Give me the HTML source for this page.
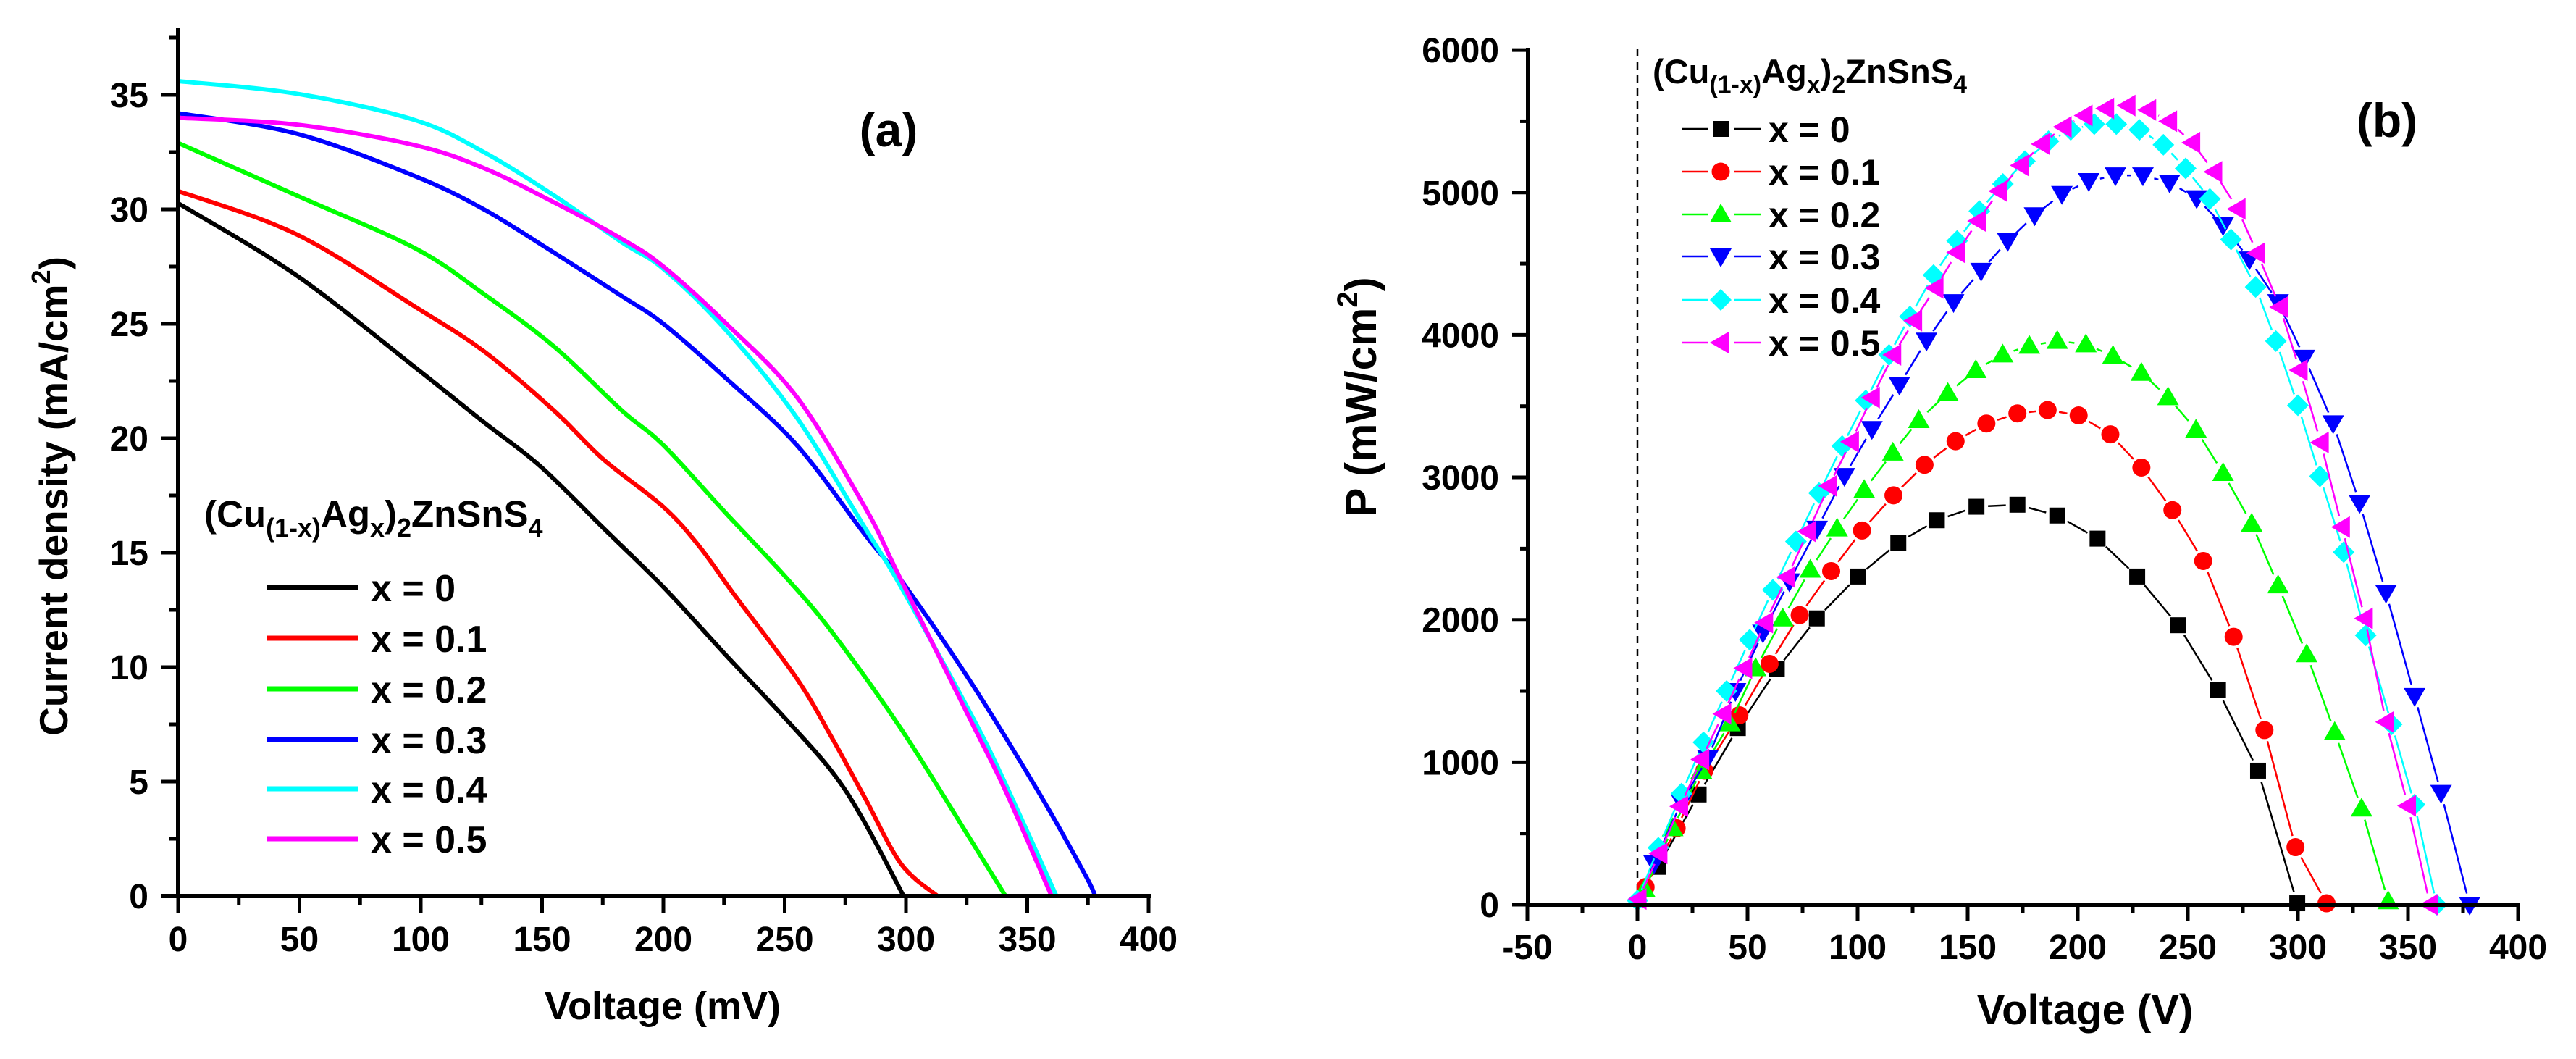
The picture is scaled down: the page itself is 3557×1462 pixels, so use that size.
<!DOCTYPE html>
<html><head><meta charset="utf-8"><style>
html,body{margin:0;padding:0;background:#fff;}
svg{display:block;font-family:"Liberation Sans",Arial,sans-serif;font-weight:bold;}
</style></head><body>
<svg id="fig" width="3557" height="1462" viewBox="0 0 3557 1462" xmlns="http://www.w3.org/2000/svg">
<g id="left"></g>
<g id="right"></g>
</svg>
<script>
// ---------- Chart (a) data: J-V curves ----------
const seriesNames = ["x = 0","x = 0.1","x = 0.2","x = 0.3","x = 0.4","x = 0.5"];
const seriesColors = ["#000000","#ff0000","#00ff00","#0000ff","#00ffff","#ff00ff"];
const jvV0 = [0,49,97.6,126,149,175,200,226,249,269,282,299];
const jvJ0 = [30.27,27.1,23.1,20.7,18.8,16.1,13.5,10.5,7.9,5.5,3.4,0];
const jvV1 = [0,49,97.6,126,155,175,200,215,229,255,269,283,298,313];
const jvJ1 = [30.8,28.9,25.75,23.8,21.2,19.1,17.0,15.25,13.2,9.5,7.0,4.3,1.4,0];
const jvV2 = [0,49,97.6,126,155,183,200,226,249,269,298,327,341];
const jvJ2 = [32.9,30.6,28.3,26.3,24.0,21.2,19.7,16.7,14.1,11.6,7.3,2.4,0];
const jvV3 = [0,49,97.6,126,155,183,200,226,255,283,298,327,356,374,378];
const jvJ3 = [34.2,33.3,31.45,30.0,28.1,26.2,25.0,22.6,19.7,15.8,13.8,9.3,4.3,0.9,0];
const jvV4 = [0,49,97.6,126,155,183,200,226,255,283,298,327,341,362];
const jvJ4 = [35.6,35.05,33.9,32.5,30.6,28.55,27.4,24.7,20.9,16.1,13.5,7.9,4.9,0];
const jvV5 = [0,49,97.6,126,155,183,200,226,255,283,298,327,341,360];
const jvJ5 = [34.0,33.7,32.8,31.8,30.3,28.7,27.5,25.0,21.8,17.0,13.8,7.6,4.6,0];
const jvXTicks = [0,50,100,150,200,250,300,350,400];
const jvYTicks = [0,5,10,15,20,25,30,35];

// ---------- Chart (b) data: P-V ----------
const pvV0 = [9.3,27.8,45.6,63.3,81.5,100,118.5,136,154,172.6,190.7,209,227,245.6,263.7,281.9,299.7];
const pvP0 = [266,774,1240,1653,2010,2304,2542,2699,2794,2808,2732,2570,2304,1962,1506,941,10];
const pvV1 = [3.7,17.8,30.4,46.3,60,73.7,88,102,116.3,130.4,144.5,158.5,172.6,186.3,200.4,214.8,228.9,243,257,270.8,284.8,298.9,313];
const pvP1 = [124,537,941,1330,1691,2033,2342,2627,2874,3088,3254,3378,3449,3473,3435,3302,3069,2770,2413,1881,1226,404,10];
const pvV2 = [3.3,16,29,42,53.7,66,78.5,90.7,103,116,127.8,141,153.7,165.9,178,190.7,203.7,216,228.9,241,253.7,266,279,291,304,316.7,328.9,341];
const pvP2 = [109,537,941,1273,1660,2010,2352,2641,2912,3174,3402,3592,3753,3863,3924,3958,3934,3853,3734,3563,3335,3031,2675,2242,1758,1212,675,24];
const pvV3 = [7.6,20,32,44.5,57,69,81.6,94,106.5,119,131.3,143.6,156.1,168.2,180.4,192.8,205,217.1,229.6,241.7,254,266,278,291,303,316,328,340,353,365,378];
const pvP3 = [290,720,1030,1500,1910,2270,2640,3010,3340,3650,3960,4230,4450,4660,4840,4990,5080,5120,5120,5070,4960,4770,4530,4230,3840,3380,2820,2190,1465,785,0];
const pvV4 = [0,9.5,20,30,40.5,51,61.5,72,82.5,93,103.7,114.3,123.8,134.5,145.2,155.3,166,176,186.7,196.8,207.5,217.5,228,238.9,249,260,269.6,280.8,290,300,310,320.8,330.8,342.6,353,363];
const pvP4 = [30,400,780,1140,1500,1860,2210,2550,2890,3220,3540,3860,4130,4420,4660,4870,5060,5220,5360,5440,5480,5480,5440,5335,5169,4955,4670,4337,3957,3506,3007,2475,1891,1266,703,0];
const pvV5 = [0.5,10,19.4,29,39,48.5,58,68,77.5,87,97,106.5,116.2,125.7,135.4,145.2,154.7,164.3,174.1,183.6,193.6,203.1,212.9,222.6,232,241.5,252,262,272.6,281.5,291.9,300.8,310.4,320,330.4,340,350,360];
const pvP5 = [40,360,690,1020,1340,1660,1980,2300,2620,2940,3250,3560,3860,4100,4330,4580,4800,5010,5190,5340,5460,5540,5590,5610,5580,5500,5350,5145,4884,4575,4195,3753,3245,2651,2010,1283,694,0];
const pvXTicks = [-50,0,50,100,150,200,250,300,350,400];
const pvYTicks = [0,1000,2000,3000,4000,5000,6000];

const NS = "http://www.w3.org/2000/svg";
function mk(parent, tag, attrs, text) {
  const e = document.createElementNS(NS, tag);
  for (const k in attrs) e.setAttribute(k, attrs[k]);
  if (text !== undefined) e.textContent = text;
  parent.appendChild(e);
  return e;
}
function smoothPath(pts) {
  let d = "M" + pts[0][0].toFixed(1) + "," + pts[0][1].toFixed(1);
  for (let i = 0; i < pts.length - 1; i++) {
    const p0 = pts[Math.max(0, i - 1)], p1 = pts[i], p2 = pts[i + 1], p3 = pts[Math.min(pts.length - 1, i + 2)];
    const t = 1 / 6;
    const c1 = [p1[0] + (p2[0] - p0[0]) * t, p1[1] + (p2[1] - p0[1]) * t];
    const c2 = [p2[0] - (p3[0] - p1[0]) * t, p2[1] - (p3[1] - p1[1]) * t];
    d += " C" + c1[0].toFixed(1) + "," + c1[1].toFixed(1) + " " + c2[0].toFixed(1) + "," + c2[1].toFixed(1) + " " + p2[0].toFixed(1) + "," + p2[1].toFixed(1);
  }
  return d;
}

// ===== Chart (a) =====
const L = document.getElementById("left");
const lx = v => 246 + v * (167.5 / 50);
const ly = j => 1237 - j * (158 / 5);
const jvV = [jvV0, jvV1, jvV2, jvV3, jvV4, jvV5];
const jvJ = [jvJ0, jvJ1, jvJ2, jvJ3, jvJ4, jvJ5];

for (let s = 0; s < 6; s++) {
  const pts = jvV[s].map((v, i) => [lx(v), ly(jvJ[s][i])]);
  const pl = mk(L, "path", {d: smoothPath(pts), fill: "none", stroke: seriesColors[s], "stroke-width": 6, "stroke-linejoin": "round"});
  
  
}
// axes
let ax = mk(L, "line", {x1: 246, y1: 38, x2: 246, y2: 1240, stroke: "#000", "stroke-width": 6});


ax = mk(L, "line", {x1: 223, y1: 1237, x2: lx(400) + 3, y2: 1237, stroke: "#000", "stroke-width": 6});


jvXTicks.forEach((t, i) => {
  const x = lx(t);
  mk(L, "line", {x1: x, y1: 1237, x2: x, y2: 1260, stroke: "#000", "stroke-width": 5});
  if (i < jvXTicks.length - 1) mk(L, "line", {x1: lx(t + 25), y1: 1237, x2: lx(t + 25), y2: 1249, stroke: "#000", "stroke-width": 5});
  const tl = mk(L, "text", {x: x, y: 1313, "font-size": 48, "text-anchor": "middle"}, String(t));
  
  
});
jvYTicks.forEach(t => {
  const y = ly(t);
  mk(L, "line", {x1: 223, y1: y, x2: 246, y2: y, stroke: "#000", "stroke-width": 5});
  mk(L, "line", {x1: 234, y1: ly(t + 2.5), x2: 246, y2: ly(t + 2.5), stroke: "#000", "stroke-width": 5});
  const tl = mk(L, "text", {x: 205, y: y + 17, "font-size": 48, "text-anchor": "end"}, String(t));
  
  
});
</script>
<script>
// titles for (a)
(function(){
  const L = document.getElementById("left");
  L.insertAdjacentHTML("beforeend",
   '<text x="915" y="1407" font-size="54" text-anchor="middle">Voltage (mV)</text>' +
   '<text transform="translate(93,685) rotate(-90)" font-size="55" text-anchor="middle">Current density (mA/cm<tspan font-size="36" dy="-24">2</tspan><tspan dy="24">)</tspan></text>' +
   '<text x="1227" y="202" font-size="66" text-anchor="middle">(a)</text>' +
   '<text x="282" y="727" font-size="51">(Cu<tspan font-size="36" dy="14">(1-x)</tspan><tspan dy="-14">Ag</tspan><tspan font-size="36" dy="14">x</tspan><tspan dy="-14">)</tspan><tspan font-size="36" dy="14">2</tspan><tspan dy="-14">ZnSnS</tspan><tspan font-size="36" dy="14">4</tspan></text>');
})();
(function(){
  const L = document.getElementById("left");
  const ys = [811, 881, 951, 1021, 1089, 1158];
  for (let s = 0; s < 6; s++) {
    const g = mk(L, "g", {});
    
    
    mk(g, "line", {x1: 368, y1: ys[s], x2: 495, y2: ys[s], stroke: seriesColors[s], "stroke-width": 7});
    mk(g, "text", {x: 512, y: ys[s] + 19, "font-size": 52}, seriesNames[s]);
  }
})();

// ===== Chart (b) =====
(function(){
  const R = document.getElementById("right");
  const px = v => 2261 + v * (152 / 50);
  const py = p => 1249 - p * (196.65 / 1000);
  const pvV = [pvV0, pvV1, pvV2, pvV3, pvV4, pvV5];
  const pvP = [pvP0, pvP1, pvP2, pvP3, pvP4, pvP5];

  const dz = mk(R, "line", {x1: px(0), y1: 68, x2: px(0), y2: 1249, stroke: "#000", "stroke-width": 2.5, "stroke-dasharray": "10 8"});
  
  

  function marker(g, s, x, y) {
    const c = seriesColors[s];
    if (s === 0) return mk(g, "rect", {x: x - 11, y: y - 11, width: 22, height: 22, fill: c});
    if (s === 1) return mk(g, "circle", {cx: x, cy: y, r: 12.5, fill: c});
    if (s === 2) return mk(g, "polygon", {points: `${x},${y-15} ${x+15},${y+11} ${x-15},${y+11}`, fill: c});
    if (s === 3) return mk(g, "polygon", {points: `${x},${y+15} ${x+15},${y-11} ${x-15},${y-11}`, fill: c});
    if (s === 4) return mk(g, "polygon", {points: `${x},${y-15} ${x+15},${y} ${x},${y+15} ${x-15},${y}`, fill: c});
    return mk(g, "polygon", {points: `${x-15},${y} ${x+11},${y-15} ${x+11},${y+15}`, fill: c});
  }

  for (let s = 0; s < 6; s++) {
    const g = mk(R, "g", {});
    
    
    const V = pvV[s], P = pvP[s];
    for (let i = 0; i < V.length - 1; i++) {
      const x1 = px(V[i]), y1 = py(P[i]), x2 = px(V[i+1]), y2 = py(P[i+1]);
      const d = Math.hypot(x2 - x1, y2 - y1), gap = 16;
      if (d > 2 * gap) {
        const ux = (x2 - x1) / d, uy = (y2 - y1) / d;
        mk(g, "line", {x1: x1 + ux*gap, y1: y1 + uy*gap, x2: x2 - ux*gap, y2: y2 - uy*gap, stroke: seriesColors[s], "stroke-width": 2.5});
      }
    }
    for (let i = 0; i < V.length; i++) {
      const m = marker(g, s, px(V[i]), py(P[i]));
      
      
    }
  }

  let a = mk(R, "line", {x1: 2110, y1: 66, x2: 2110, y2: 1252, stroke: "#000", "stroke-width": 6});
  
  
  a = mk(R, "line", {x1: 2107, y1: 1249, x2: px(400) + 3, y2: 1249, stroke: "#000", "stroke-width": 6});
  
  
  pvXTicks.forEach((t, i) => {
    const x = px(t);
    mk(R, "line", {x1: x, y1: 1249, x2: x, y2: 1272, stroke: "#000", "stroke-width": 5});
    if (i < pvXTicks.length - 1) mk(R, "line", {x1: px(t + 25), y1: 1249, x2: px(t + 25), y2: 1261, stroke: "#000", "stroke-width": 5});
    const tl = mk(R, "text", {x: x, y: 1324, "font-size": 48, "text-anchor": "middle"}, String(t));
    
    
  });
  pvYTicks.forEach((t, i) => {
    const y = py(t);
    mk(R, "line", {x1: 2088, y1: y, x2: 2110, y2: y, stroke: "#000", "stroke-width": 5});
    if (i < pvYTicks.length - 1) mk(R, "line", {x1: 2099, y1: py(t + 500), x2: 2110, y2: py(t + 500), stroke: "#000", "stroke-width": 5});
    const tl = mk(R, "text", {x: 2070, y: y + 17, "font-size": 48, "text-anchor": "end"}, String(t));
    
    
  });

  R.insertAdjacentHTML("beforeend",
   '<text x="2879" y="1414" font-size="58" text-anchor="middle">Voltage (V)</text>' +
   '<text transform="translate(1900,548) rotate(-90)" font-size="60" text-anchor="middle">P (mW/cm<tspan font-size="40" dy="-26">2</tspan><tspan dy="26">)</tspan></text>' +
   '<text x="3296" y="189" font-size="66" text-anchor="middle">(b)</text>' +
   '<text x="2282" y="115" font-size="47">(Cu<tspan font-size="34" dy="13">(1-x)</tspan><tspan dy="-13">Ag</tspan><tspan font-size="34" dy="13">x</tspan><tspan dy="-13">)</tspan><tspan font-size="34" dy="13">2</tspan><tspan dy="-13">ZnSnS</tspan><tspan font-size="34" dy="13">4</tspan></text>');

  const ys = [178, 237, 296, 354, 414, 473];
  for (let s = 0; s < 6; s++) {
    const g = mk(R, "g", {});
    
    
    mk(g, "line", {x1: 2322, y1: ys[s], x2: 2358, y2: ys[s], stroke: seriesColors[s], "stroke-width": 2.5});
    mk(g, "line", {x1: 2394, y1: ys[s], x2: 2431, y2: ys[s], stroke: seriesColors[s], "stroke-width": 2.5});
    marker(g, s, 2376, ys[s]);
    mk(g, "text", {x: 2442, y: ys[s] + 18, "font-size": 50}, seriesNames[s]);
  }
})();
</script>
</body></html>
